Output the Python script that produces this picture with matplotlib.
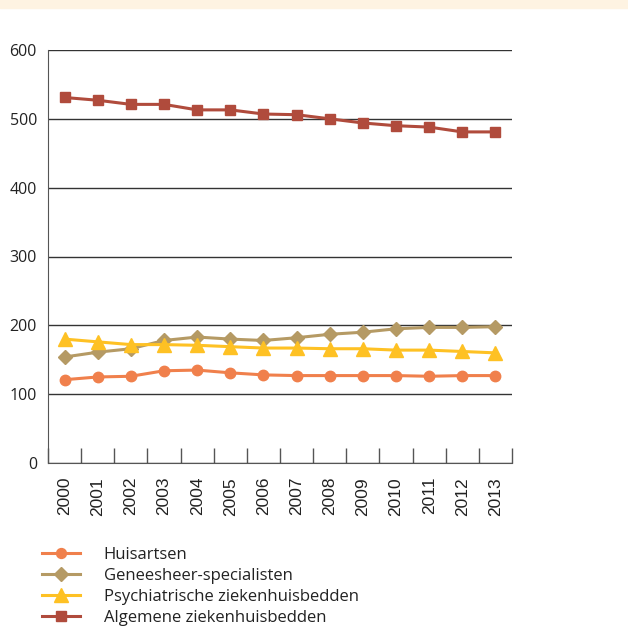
import numpy as np
import matplotlib
matplotlib.use('Agg')
import matplotlib.pyplot as plt
from matplotlib.patches import Rectangle

years = ['2000', '2001', '2002', '2003', '2004', '2005', '2006',
         '2007', '2008', '2009', '2010', '2011', '2012', '2013']

huisartsen = [121, 125, 126, 134, 135, 131, 128, 127, 127, 127, 127, 126, 127, 127]
specialisten = [154, 161, 166, 178, 183, 180, 178, 182, 187, 190, 195, 197, 197, 198]
psychiatrisch = [180, 176, 172, 172, 171, 169, 167, 167, 166, 166, 164, 164, 162, 160]
algemeen = [531, 527, 521, 521, 513, 513, 507, 506, 500, 494, 490, 488, 481, 481]

labels = ['Huisartsen', 'Geneesheer-specialisten',
          'Psychiatrische ziekenhuisbedden', 'Algemene ziekenhuisbedden']

plt.rcParams['font.family'] = ['Open Sans', 'DejaVu Sans']

fig = plt.figure(figsize=(6.28, 6.28), dpi=100)
fig.patches.append(Rectangle((0, 1 - 8 / 628), 1, 8 / 628, transform=fig.transFigure,
                             color='#fef3e2', zorder=0))

ax = fig.add_axes([48 / 628, 1 - 463 / 628, 464 / 628, 413 / 628])

x = np.arange(len(years))
lw = 2.2
ax.plot(x, huisartsen, color='#f0804c', lw=lw, marker='o', ms=7.5, label=labels[0], zorder=3)
ax.plot(x, specialisten, color='#b59a64', lw=lw, marker='D', ms=7.5, label=labels[1], zorder=3)
ax.plot(x, psychiatrisch, color='#fec124', lw=lw, marker='^', ms=10.5, label=labels[2], zorder=3)
ax.plot(x, algemeen, color='#b04b3c', lw=lw, marker='s', ms=7.5, label=labels[3], zorder=3)

ax.set_xlim(-0.5, 13.5)
ax.set_ylim(0, 600)
ax.set_yticks(range(0, 700, 100))
ax.yaxis.grid(True, color='#333333', lw=1)
ax.set_axisbelow(True)
ax.tick_params(axis='y', length=0, labelsize=11.5, pad=8, labelcolor='#222222')

ax.set_xticks(x)
ax.set_xticklabels(years, rotation=90, family=['Liberation Sans'], fontsize=12.5)
ax.set_xticks(np.arange(-0.5, 14, 1), minor=True)
ax.tick_params(axis='x', which='major', length=0, pad=10, labelcolor='#222222')
ax.tick_params(axis='x', which='minor', direction='in', length=11, color='#555555', width=1)

for side in ['top', 'right']:
    ax.spines[side].set_visible(False)
ax.spines['left'].set_color('#555555')
ax.spines['bottom'].set_color('#555555')

leg = fig.legend(loc='upper left', bbox_to_anchor=(27 / 628, 1 - 532 / 628), frameon=False,
                 fontsize=12, handlelength=2.3, handletextpad=1.4, labelspacing=0.3,
                 markerscale=0.95)
for t in leg.get_texts():
    t.set_color('#222222')

fig.savefig('out.png', dpi=100)
